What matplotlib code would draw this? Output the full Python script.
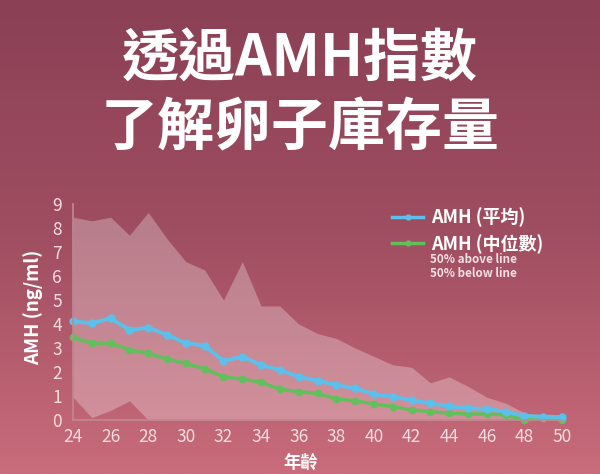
import numpy as np
import matplotlib
matplotlib.use("Agg")
import matplotlib.pyplot as plt
from matplotlib.colors import LinearSegmentedColormap
from matplotlib.lines import Line2D

plt.rcParams['font.family'] = ['Noto Sans CJK TC', 'DejaVu Sans']

# ages on the x axis
ages = list(range(24, 51))

# mean AMH (blue)
amh_mean = [4.12, 4.03, 4.24, 3.75, 3.85, 3.54, 3.20, 3.10, 2.46, 2.64, 2.29, 2.08,
            1.80, 1.64, 1.46, 1.32, 1.08, 0.97, 0.83, 0.69, 0.58, 0.49, 0.46, 0.35,
            0.17, 0.14, 0.12]
# median AMH (green)
amh_median = [3.44, 3.20, 3.20, 2.92, 2.78, 2.54, 2.36, 2.13, 1.80, 1.71, 1.57, 1.28,
              1.18, 1.11, 0.88, 0.80, 0.67, 0.56, 0.42, 0.35, 0.28, 0.25, 0.25, 0.21,
              0.00, 0.08, 0.00]
# shaded range
band_upper = [8.45, 8.30, 8.45, 7.70, 8.65, 7.55, 6.60, 6.25, 5.00, 6.60, 4.75, 4.75,
              4.00, 3.60, 3.40, 3.00, 2.65, 2.30, 2.20, 1.55, 1.80, 1.40, 0.95, 0.70,
              0.30, 0.12, 0.10]
band_lower = [0.95, 0.10, 0.40, 0.80, 0.00, 0.00, 0.00, 0.00, 0.00, 0.00, 0.00, 0.00,
              0.00, 0.00, 0.00, 0.00, 0.00, 0.00, 0.00, 0.00, 0.00, 0.00, 0.00, 0.00,
              0.00, 0.00, 0.00]

title_lines = ["透過AMH指數", "了解卵子庫存量"]
legend_labels = ["AMH (平均)", "AMH (中位數)"]
legend_notes = ["50% above line", "50% below line"]

BLUE = "#5cc0ea"
GREEN = "#62c05c"
TICK = "#f3dde1"

fig = plt.figure(figsize=(6, 4.74), dpi=100)

# background gradient
bg = fig.add_axes([0, 0, 1, 1])
cmap = LinearSegmentedColormap.from_list("bg", ["#8b4055", "#a04e61", "#c96c7b"])
bg.imshow(np.linspace(0, 1, 256).reshape(-1, 1), aspect="auto", cmap=cmap,
          extent=[0, 1, 0, 1])
bg.set_axis_off()

fig.text(0.5, 0.874, title_lines[0], ha="center", va="center", color="white",
         fontsize=41, fontweight="heavy")
fig.text(0.5, 0.729, title_lines[1], ha="center", va="center", color="white",
         fontsize=41, fontweight="heavy")

ax = fig.add_axes([0.1217, 0.1139, 0.815, 0.4557])
ax.patch.set_alpha(0)
ax.fill_between(ages, band_lower, band_upper, color="white", alpha=0.28, lw=0)
ax.plot(ages, amh_median, color=GREEN, lw=2.5, marker="o", ms=4.5, clip_on=False)
ax.plot(ages, amh_mean, color=BLUE, lw=2.8, marker="o", ms=5, clip_on=False)

ax.set_xlim(24, 50)
ax.set_ylim(0, 9)
ax.set_xticks(range(24, 51, 2))
ax.set_yticks(range(0, 10))
ax.tick_params(length=0, colors=TICK, labelsize=12.5)
ax.tick_params(axis="x", pad=6)
ax.tick_params(axis="y", pad=8)
for s in ["top", "right"]:
    ax.spines[s].set_visible(False)
for s in ["left", "bottom"]:
    ax.spines[s].set_color("#c18892")
    ax.spines[s].set_linewidth(1.2)

ax.set_ylabel("AMH (ng/ml)", color="white", fontsize=13.5, fontweight="bold")
ax.yaxis.set_label_coords(-0.082, 0.52)
ax.yaxis.label.set_va("center")
ax.set_xlabel("年齡", color="white", fontsize=12.5, fontweight="bold")
ax.xaxis.set_label_coords(0.465, -0.199)
ax.xaxis.label.set_va("center")

handles = [Line2D([], [], color=BLUE, lw=2.5, marker="o", ms=3.5, markevery=[1]),
           Line2D([], [], color=GREEN, lw=2.5, marker="o", ms=3.5, markevery=[1])]
leg = ax.legend(handles, legend_labels, loc="upper left", bbox_to_anchor=(0.62, 1.058),
                frameon=False, handlelength=1.7, handletextpad=0.45, labelspacing=0.35,
                prop={"size": 13, "weight": "bold"})
for t in leg.get_texts():
    t.set_color("white")

fig.text(0.717, 0.453, legend_notes[0], color="#f1dfe3", fontsize=8.4, fontweight="bold",
         va="center")
fig.text(0.717, 0.424, legend_notes[1], color="#f1dfe3", fontsize=8.4, fontweight="bold",
         va="center")

fig.savefig("out.png", dpi=100)
